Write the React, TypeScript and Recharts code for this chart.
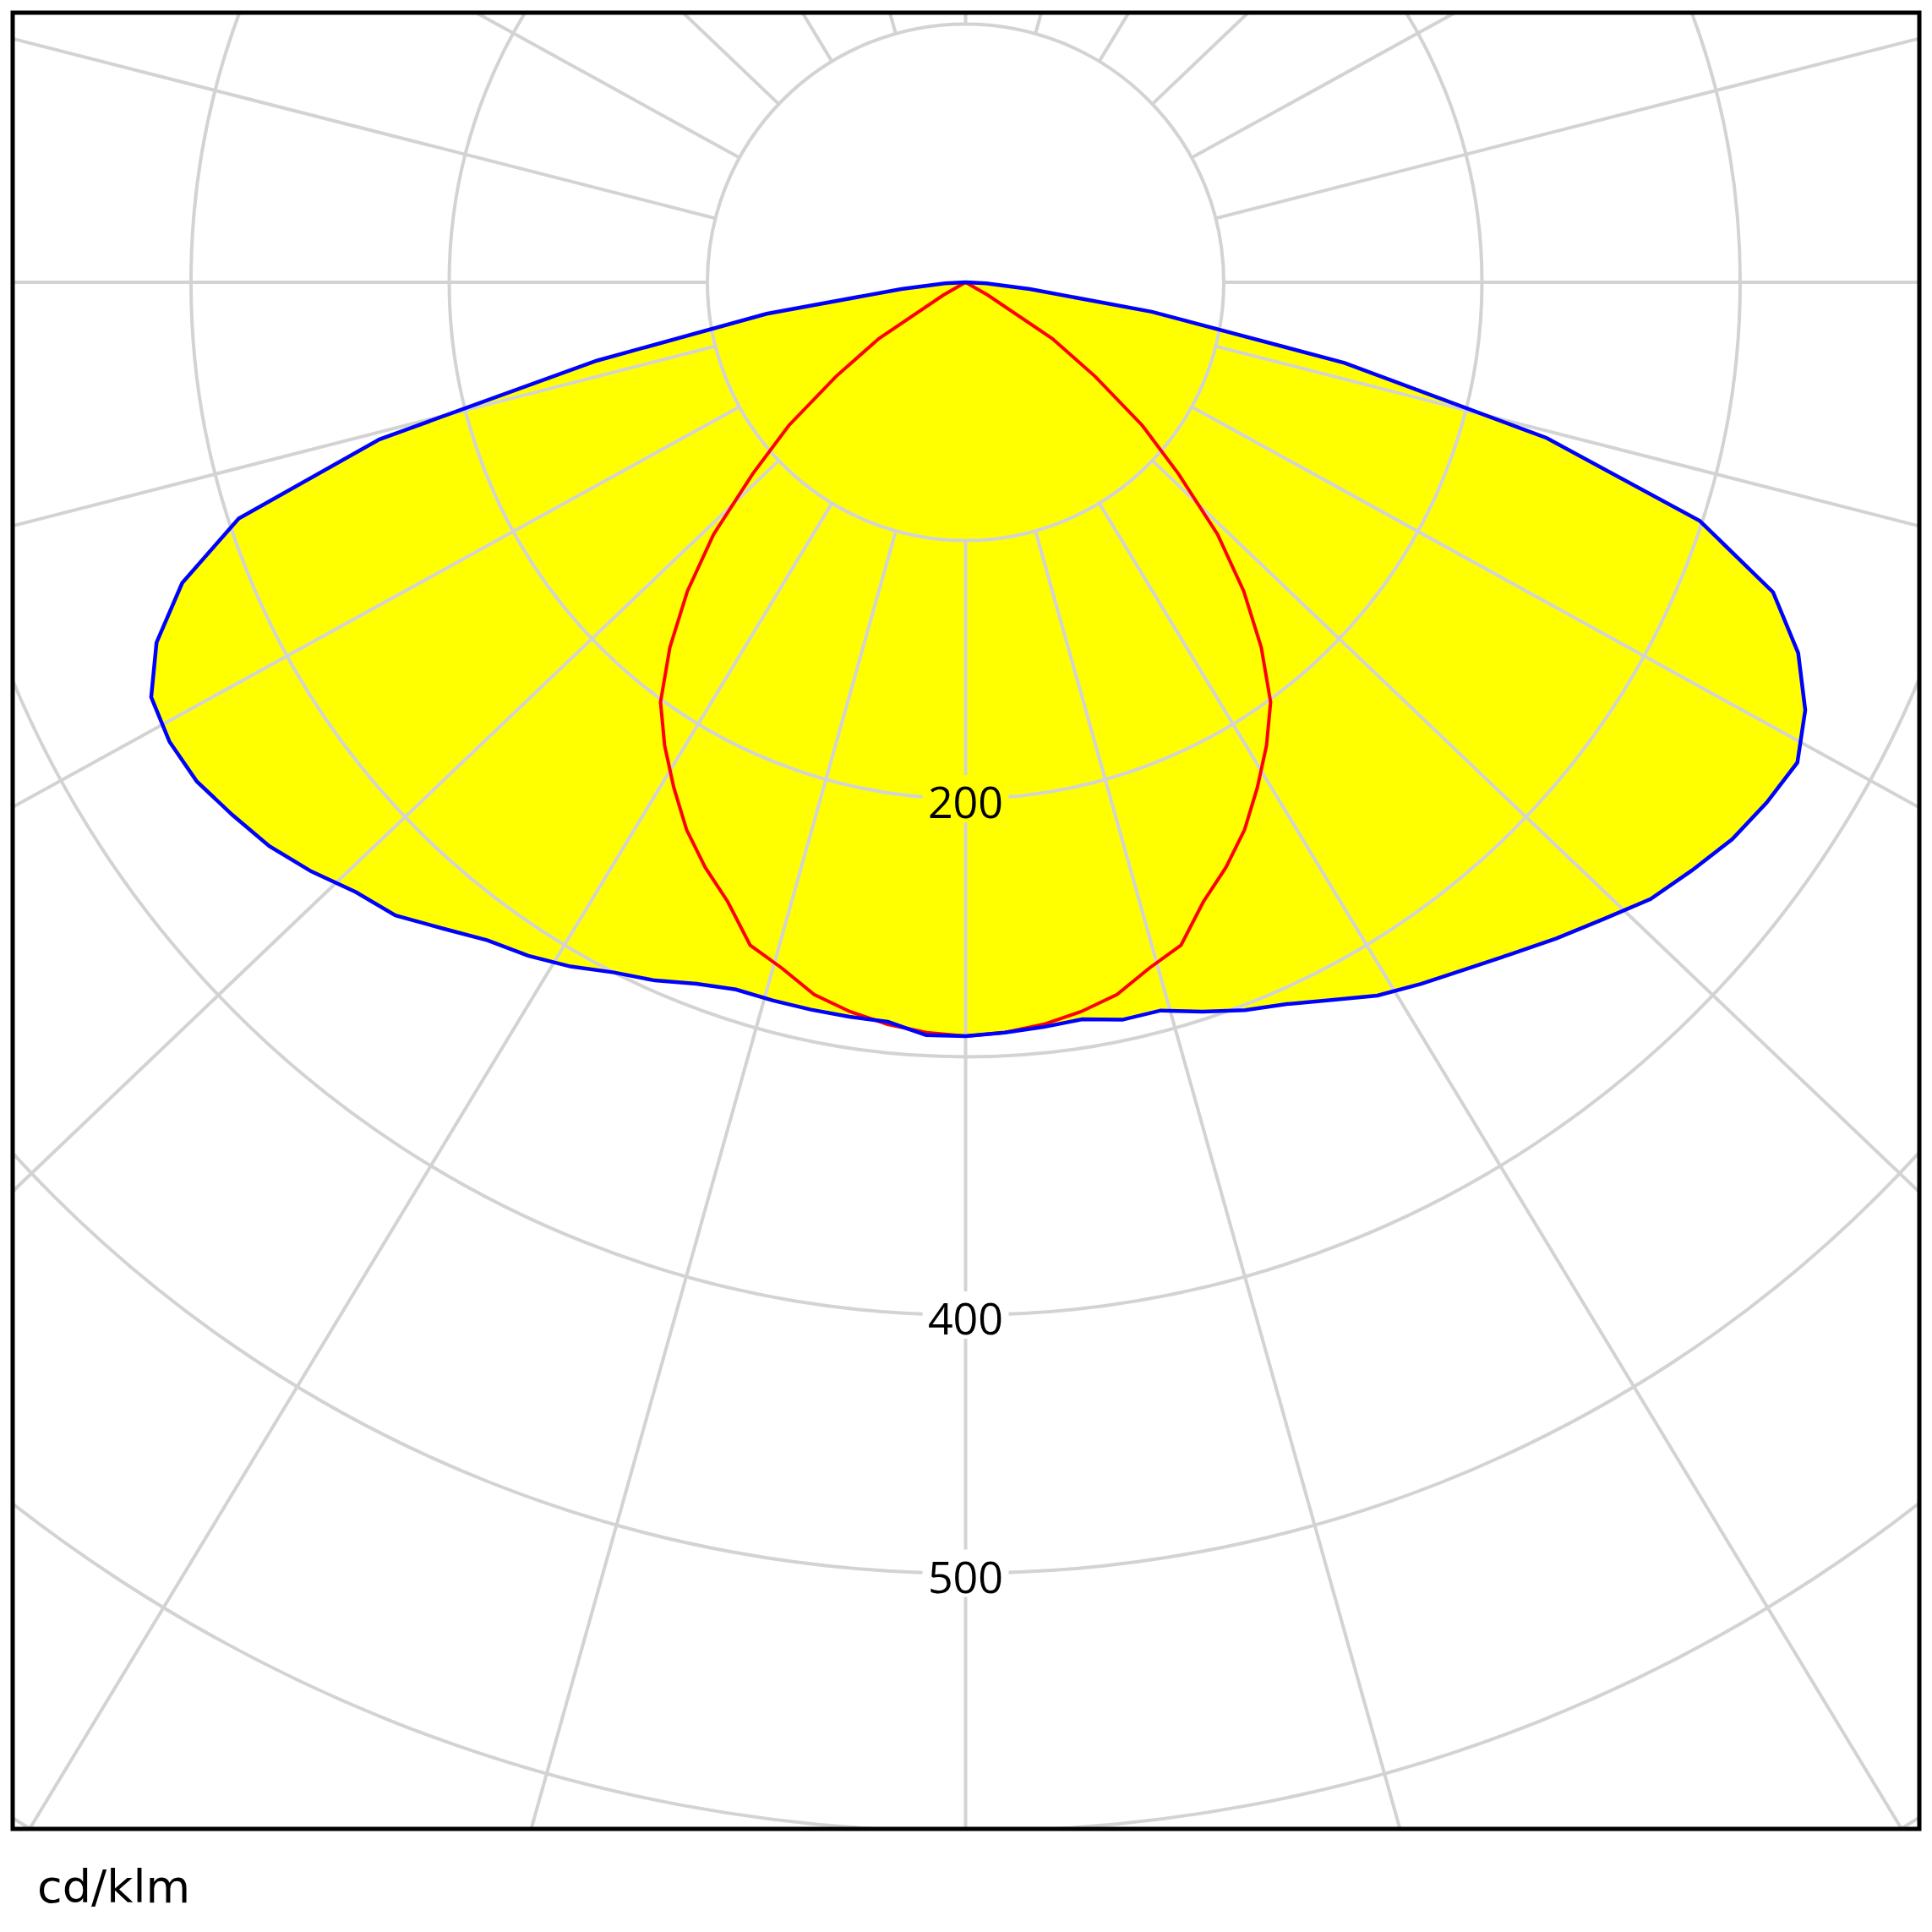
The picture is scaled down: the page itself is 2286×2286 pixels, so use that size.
import React from 'react';
import { RadarChart, Radar, PolarGrid, PolarAngleAxis, PolarRadiusAxis } from 'recharts';

// gamma angles (deg) of the intensity table, -180 (up) .. 0 (down) .. 177
const gammaAngles = Array.from({ length: 120 }, (_, i) => -180 + i * 3);

// half-plane values, cd/klm, for gamma 0, 3, 6 ... 90
const blueRight = [292, 291, 290, 289, 292, 292, 297, 302, 306, 312, 319, 324, 329, 335, 342, 349, 357, 362, 367, 370, 372, 365, 353, 335, 299, 233, 150, 73, 25, 8, 0];
const blueLeft = [292, 292, 288, 288, 288, 288, 288, 291, 296, 300, 306, 311, 315, 322, 330, 334, 341, 347, 351, 355, 356, 354, 343, 325, 296, 235, 146, 78, 25, 8, 0];
const redHalf = [292, 291, 289, 286, 282, 275, 270, 257, 248, 238, 226, 214, 201, 182, 161, 138, 111, 88, 62, 40, 10, 0, 0, 0, 0, 0, 0, 0, 0, 0, 0];

// radial scale
const ringValues = [100, 200, 300, 400, 500, 600, 700, 800];
const ringLabels = [200, 400, 500];
const spokeAngles = Array.from({ length: 24 }, (_, i) => i * 15);

const W = 2256;
const H = 2149;
const CX = 1127.5;
const CY = 319;
const R_MAX = 800;
const OUTER = 2444;
const INNER = (ringValues[0] / R_MAX) * OUTER;
const SPOKE_SQUISH = 0.954;
// radar puts category i one band after startAngle, so start one step early
const START = 90 - 3;

const half = (arr: number[], g: number) => (Math.abs(g) <= 90 ? arr[Math.abs(g) / 3] : 0);

const rows = gammaAngles.map((g) => ({
  gamma: g,
  c0c180: g < 0 ? half(blueLeft, g) : half(blueRight, g),
  c90c270: half(redHalf, g),
}));

const peakDown = Math.max(blueRight[0], redHalf[0]);

// spokes as drawn in the reference are slightly flattened
const gridAngles = spokeAngles.map((t) => {
  const rad = (t * Math.PI) / 180;
  return (Math.atan2(-SPOKE_SQUISH * Math.cos(rad), Math.sin(rad)) * 180) / Math.PI;
});
const gridRadii = ringValues.map((v) => (v / R_MAX) * OUTER);

const layerStyle: React.CSSProperties = { position: 'absolute', left: 15, top: 15, width: W, height: H, overflow: 'hidden' };
const noMargin = { top: 0, right: 0, bottom: 0, left: 0 };

const renderRingLabel = (props: any) => {
  const { x, y, payload } = props;
  if (!ringLabels.includes(payload.value)) return <g />;
  const bg = payload.value < peakDown ? '#ffff00' : '#ffffff';
  return (
    <g>
      <rect x={x - 51} y={y - 28} width={102} height={56} fill={bg} />
      <text x={x} y={y + 23} textAnchor="middle" fontFamily="'Open Sans', sans-serif" fontSize={52} fill="#000">
        {payload.value}
      </text>
    </g>
  );
};

export default function App() {
  return (
    <div style={{ position: 'absolute', left: 0, top: 0, width: 2286, height: 2286, background: '#fff', overflow: 'hidden' }}>
      <style>{'.recharts-polar-grid line, .recharts-polar-grid circle, .recharts-polar-grid path { stroke-width: 4px !important; stroke: #d3d3d3 !important; }'}</style>

      {/* yellow fill */}
      <div style={layerStyle}>
        <RadarChart width={W} height={H} data={rows} cx={CX} cy={CY} outerRadius={OUTER} startAngle={START} endAngle={START + 360} margin={noMargin}>
          <PolarAngleAxis dataKey="gamma" tick={false} axisLine={false} tickLine={false} />
          <PolarRadiusAxis domain={[0, R_MAX]} tick={false} axisLine={false} tickLine={false} />
          <Radar dataKey="c0c180" fill="#ffff00" fillOpacity={1} stroke="none" dot={false} isAnimationActive={false} />
          <Radar dataKey="c90c270" fill="#ffff00" fillOpacity={1} stroke="none" dot={false} isAnimationActive={false} />
        </RadarChart>
      </div>

      {/* grid */}
      <div style={layerStyle}>
        <RadarChart width={W} height={H} data={rows} cx={CX} cy={CY} innerRadius={INNER} outerRadius={OUTER} startAngle={START} endAngle={START + 360} margin={noMargin}>
          <PolarAngleAxis dataKey="gamma" tick={false} axisLine={false} tickLine={false} />
          <PolarGrid gridType="circle" polarAngles={gridAngles} polarRadius={gridRadii} stroke="#d3d3d3" strokeWidth={4} />
        </RadarChart>
      </div>

      {/* curves + ring labels */}
      <div style={layerStyle}>
        <RadarChart width={W} height={H} data={rows} cx={CX} cy={CY} outerRadius={OUTER} startAngle={START} endAngle={START + 360} margin={noMargin}>
          <PolarAngleAxis dataKey="gamma" tick={false} axisLine={false} tickLine={false} />
          <PolarRadiusAxis
            domain={[0, R_MAX]}
            ticks={ringLabels}
            angle={270}
            axisLine={false}
            tickLine={false}
            tick={renderRingLabel}
          />
          <Radar dataKey="c90c270" fill="none" stroke="#ff0000" strokeWidth={4} dot={false} isAnimationActive={false} />
          <Radar dataKey="c0c180" fill="none" stroke="#0000ff" strokeWidth={4.5} dot={false} isAnimationActive={false} />
        </RadarChart>
      </div>

      <svg width={2286} height={2286} style={{ position: 'absolute', left: 0, top: 0, pointerEvents: 'none' }}>
        <rect x={15} y={15} width={2256} height={2149} fill="none" stroke="#000" strokeWidth={5} />
        <text x={44} y={2251} fontFamily="'DejaVu Sans', sans-serif" fontSize={54} fill="#000">
          cd/klm
        </text>
      </svg>
    </div>
  );
}
